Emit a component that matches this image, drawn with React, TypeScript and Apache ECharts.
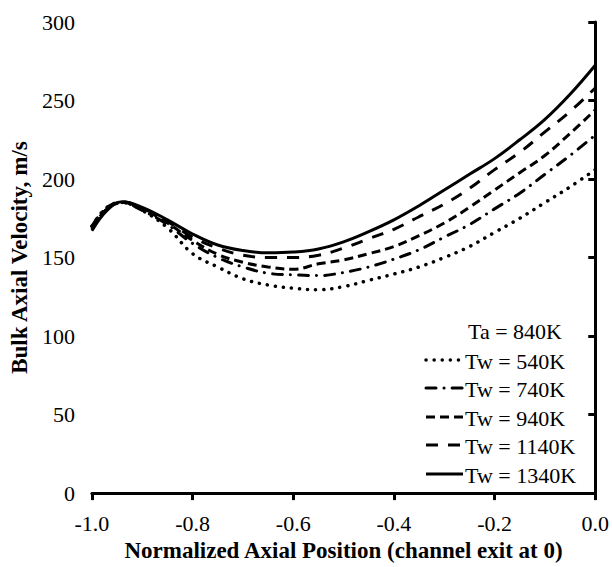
import React, { useEffect, useRef } from "react";
import * as echarts from "echarts";

const positions = [-1.0, -0.97, -0.94, -0.9, -0.85, -0.8, -0.75, -0.7, -0.65, -0.6, -0.55, -0.5, -0.45, -0.4, -0.35, -0.3, -0.25, -0.2, -0.15, -0.1, -0.05, 0];
const tw540 = [170, 182, 185, 180, 169, 152.5, 144, 136.5, 132.5, 130.5, 129.5, 131.5, 135.5, 139.5, 144, 150, 157, 166, 175, 185, 195, 206];
const tw740 = [170, 182, 185, 180, 171, 159, 150, 144, 140, 139, 138.5, 140.5, 144, 149, 155, 163, 171, 181, 191, 203, 215, 228];
const tw940 = [169, 181, 185, 181, 172, 161, 152, 147, 144, 142.5, 146, 148.5, 152.5, 157, 164, 172, 182, 193, 204, 215, 229, 244];
const tw1140 = [168, 181, 185.5, 181.5, 173, 163, 156, 151.5, 150, 150, 151.5, 156, 162, 168, 176, 184, 194, 206, 217, 230, 243, 258];
const tw1340 = [167, 180, 185.5, 182, 174, 165, 158, 154.5, 153, 153.5, 155.5, 160, 166.5, 174, 183, 193, 203, 213, 225, 238, 254, 272.5];

const seriesNames = ["Tw = 540K", "Tw = 740K", "Tw = 940K", "Tw = 1140K", "Tw = 1340K"];
const seriesValues = [tw540, tw740, tw940, tw1140, tw1340];
const dashes: (number[] | "solid")[] = [[0.1, 8], [10, 8, 0.1, 8], [9, 5], [12, 10], "solid"];
const legendHeader = "Ta = 840K";

const FONT = "'Liberation Serif', 'Times New Roman', serif";

export default function App() {
  const ref = useRef<HTMLDivElement>(null);
  useEffect(() => {
    if (!ref.current) return;
    const chart = echarts.init(ref.current, null, { renderer: "svg" });
    const series = seriesValues.map((vals, i) => ({
      name: seriesNames[i],
      type: "line",
      data: vals.map((v, j) => [positions[j], v]),
      showSymbol: false,
      smooth: 0.4,
      lineStyle: {
        color: "#000",
        width: i === 0 ? 3.5 : 3,
        type: dashes[i],
        cap: i === 0 || i === 1 ? "round" : "butt",
      },
    }));

    const legendX0 = 426;
    const legendX1 = 463;
    const rowY = [360, 388, 417, 445, 474];
    const graphic: any[] = [
      {
        type: "text",
        x: 468,
        y: 331,
        style: { text: legendHeader, font: `22px ${FONT}`, fill: "#000", verticalAlign: "middle" },
      },
    ];
    rowY.forEach((y, i) => {
      graphic.push({
        type: "line",
        shape: { x1: legendX0, y1: y, x2: legendX1, y2: y },
        style: {
          stroke: "#000",
          lineWidth: i === 0 ? 3.5 : 3,
          lineDash: dashes[i] === "solid" ? null : dashes[i],
          lineCap: i === 0 || i === 1 ? "round" : "butt",
        },
      });
      graphic.push({
        type: "text",
        x: 465,
        y: y + 1,
        style: { text: seriesNames[i], font: `22px ${FONT}`, fill: "#000", verticalAlign: "middle" },
      });
    });

    chart.setOption({
      animation: false,
      backgroundColor: "#fff",
      grid: { left: 90.5, right: 15, top: 22, bottom: 65, containLabel: false },
      xAxis: {
        type: "value",
        min: -1.0,
        max: 0,
        interval: 0.2,
        name: "Normalized Axial Position (channel exit at 0)",
        nameLocation: "middle",
        nameGap: 45,
        nameTextStyle: { fontFamily: FONT, fontWeight: "bold", fontSize: 23, color: "#000" },
        axisLine: { show: true, onZero: false, lineStyle: { color: "#000", width: 3 } },
        axisTick: { show: true, length: 7, lineStyle: { color: "#000", width: 3 } },
        axisLabel: {
          fontFamily: FONT,
          fontSize: 22,
          color: "#000",
          margin: 19,
          formatter: (v: number) => v.toFixed(1),
        },
        splitLine: { show: false },
      },
      yAxis: {
        type: "value",
        min: 0,
        max: 300,
        interval: 50,
        name: "Bulk Axial Velocity, m/s",
        nameLocation: "middle",
        nameGap: 60,
        nameTextStyle: { fontFamily: FONT, fontWeight: "bold", fontSize: 23, color: "#000" },
        axisLine: { show: true, lineStyle: { color: "#000", width: 3 } },
        axisTick: { show: true, length: 7, lineStyle: { color: "#000", width: 3 } },
        axisLabel: { fontFamily: FONT, fontSize: 22, color: "#000", margin: 17 },
        splitLine: { show: false },
      },
      series,
      graphic,
    });
    return () => chart.dispose();
  }, []);
  return <div ref={ref} style={{ width: 612, height: 567, position: "absolute", left: 0, top: 0 }} />;
}
